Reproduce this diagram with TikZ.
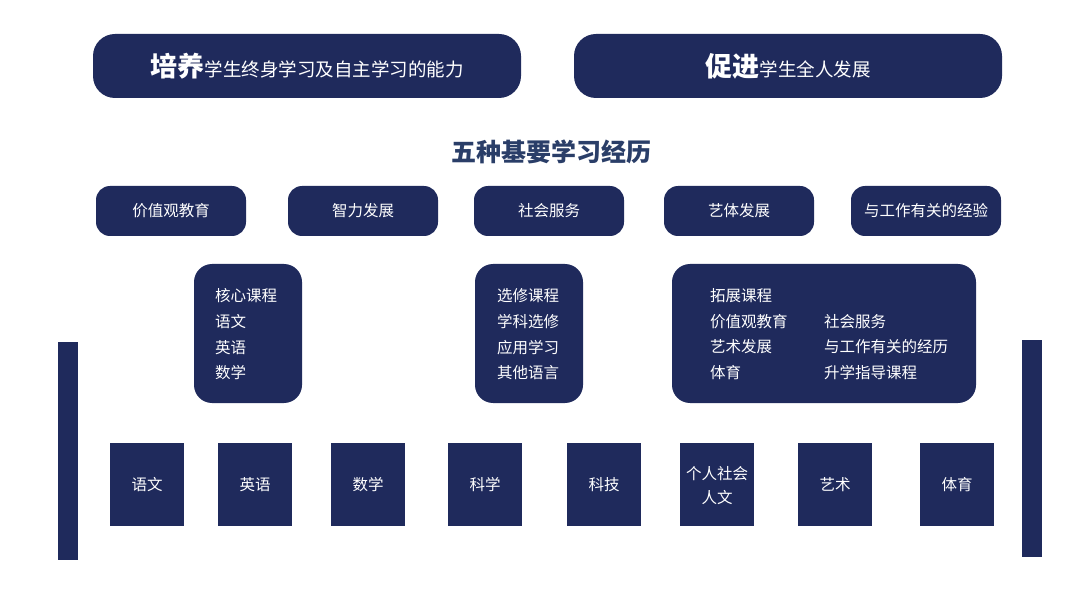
\documentclass[tikz,border=0pt]{standalone}
\usepackage{fontspec}
\setmainfont{Noto Sans CJK SC}
\definecolor{navy}{HTML}{1F2A5C}
\definecolor{ttl}{HTML}{2A3E68}
\begin{document}
\begin{tikzpicture}[x=1pt,y=-1pt,
  box/.style={fill=navy,draw=none,rounded corners=#1},
  box/.default=14pt,
  wt/.style={text=white,font=\fontsize{15.5}{24}\selectfont,inner sep=0pt},
  lt/.style={text=white,font=\fontsize{15.5}{18}\selectfont,inner sep=0pt,anchor=west}]
\useasboundingbox (0,0) rectangle (1080,596);
% top
\fill[box=22pt] (93,34) rectangle (521,98);
\fill[box=22pt] (574,34) rectangle (1002,98);
\node[text=white,inner sep=0pt] (t1) at (307,66) {{\fontsize{27}{30}\selectfont\bfseries 培养}{\fontsize{18.5}{22}\selectfont 学生终身学习及自主学习的能力}};
\node[text=white,inner sep=0pt] (t2) at (788,66) {{\fontsize{27}{30}\selectfont\bfseries 促进}{\fontsize{18.5}{22}\selectfont 学生全人发展}};
\node[text=ttl,inner sep=0pt,font=\fontsize{25}{28}\selectfont\bfseries] (title) at (551,152) {五种基要学习经历};
% row
\foreach \x/\t [count=\i] in {96/价值观教育,288/智力发展,474/社会服务,664/艺体发展,851/与工作有关的经验}{
  \fill[box] (\x,186) rectangle ++(150,50);
  \node[wt] (r\i) at (\x+75,211) {\t};
}
% middle
\fill[box=18pt] (194,264) rectangle (302,403);
\fill[box=18pt] (475,264) rectangle (583,403);
\fill[box=18pt] (672,264) rectangle (976,403);
\foreach \t/\y [count=\i] in {核心课程/296,语文/322,英语/348,数学/373}{\node[lt] (a\i) at (215,\y) {\t};}
\foreach \t/\y [count=\i] in {选修课程/296,学科选修/322,应用学习/348,其他语言/373}{\node[lt] (b\i) at (497,\y) {\t};}
\node[lt] (c0) at (710,296) {拓展课程};
\foreach \t/\y [count=\i] in {价值观教育/322,艺术发展/347,体育/373}{\node[lt] (c\i) at (710,\y) {\t};}
\foreach \t/\y [count=\i] in {社会服务/322,与工作有关的经历/347,升学指导课程/373}{\node[lt] (d\i) at (824,\y) {\t};}
% bars
\fill[navy] (58,342) rectangle (78,560);
\fill[navy] (1022,340) rectangle (1042,557);
% bottom
\foreach \x/\t [count=\i] in {110/语文,218/英语,331/数学,448/科学,567/科技,798/艺术,920/体育}{
  \fill[navy] (\x,443) rectangle ++(74,83);
  \node[wt] (s\i) at (\x+37,485) {\t};
}
\fill[navy] (680,443) rectangle ++(74,83);
\node[wt,align=center] (s8) at (717,486) {个人社会\\人文};
\end{tikzpicture}
\end{document}
